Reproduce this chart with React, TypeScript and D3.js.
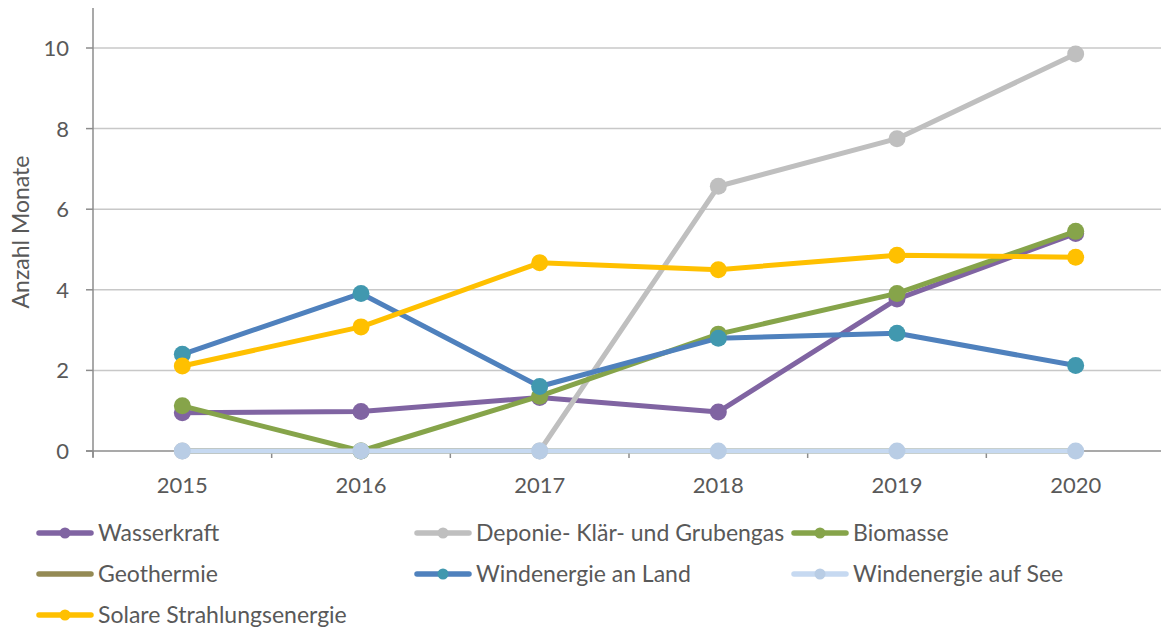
import React from "react";
import * as d3 from "d3";

const years = ["2015", "2016", "2017", "2018", "2019", "2020"];
const yTicks = [0, 2, 4, 6, 8, 10];

const wasserkraft = [0.95, 0.98, 1.33, 0.97, 3.77, 5.4];
const deponie = [0, 0, 0, 6.57, 7.75, 9.85];
const biomasse = [1.12, 0, 1.36, 2.9, 3.91, 5.45];
const geothermie = [0, 0, 0, 0, 0, 0];
const windLand = [2.4, 3.91, 1.6, 2.8, 2.92, 2.12];
const windSee = [0, 0, 0, 0, 0, 0];
const solar = [2.11, 3.08, 4.67, 4.5, 4.86, 4.81];

const series = [
  { name: "Wasserkraft", values: wasserkraft, line: "#8064A2", marker: "#8064A2", markers: true },
  { name: "Deponie- Klär- und Grubengas", values: deponie, line: "#BFBFBF", marker: "#BFBFBF", markers: true },
  { name: "Biomasse", values: biomasse, line: "#86A44A", marker: "#86A44A", markers: true },
  { name: "Geothermie", values: geothermie, line: "#948A54", marker: "#948A54", markers: false },
  { name: "Windenergie an Land", values: windLand, line: "#4F81BD", marker: "#4198AF", markers: true },
  { name: "Windenergie auf See", values: windSee, line: "#C6D9F1", marker: "#B9CDE5", markers: true },
  { name: "Solare Strahlungsenergie", values: solar, line: "#FFC000", marker: "#FFC000", markers: true },
];

const FONT = "Lato, 'Open Sans', sans-serif";
const TEXT = "#595959";

export default function App() {
  const W = 1161, H = 632;
  const left = 93, right = 1165, top = 8, bottom = 451;
  const x = d3.scaleBand<string>().domain(years).range([left, right]);
  const y = d3.scaleLinear().domain([0, 10]).range([bottom, 48]);
  const cx = (i: number) => (x(years[i]) as number) + x.bandwidth() / 2;
  const line = d3.line<number>().x((_, i) => cx(i)).y((v) => y(v));

  const legendCols = [37, 415, 792];
  const legendRows = [533, 574, 615];

  return (
    <svg width={W} height={H} style={{ position: "absolute", left: 0, top: 0 }}>
      <rect width={W} height={H} fill="#fff" />
      {yTicks.filter((t) => t > 0).map((t) => (
        <line key={t} x1={left} x2={W} y1={y(t)} y2={y(t)} stroke="#C8C8C8" strokeWidth={1.5} />
      ))}
      <line x1={left} x2={left} y1={top} y2={bottom + 6} stroke="#8C8C8C" strokeWidth={1.5} />
      <line x1={left - 7} x2={W} y1={bottom} y2={bottom} stroke="#8C8C8C" strokeWidth={1.5} />
      {yTicks.map((t) => (
        <g key={t}>
          <line x1={left - 7} x2={left} y1={y(t)} y2={y(t)} stroke="#8C8C8C" strokeWidth={1.5} />
          <text x={69} y={y(t)} dy="0.36em" textAnchor="end" fontFamily={FONT} fontSize={22} fill={TEXT}>
            {t}
          </text>
        </g>
      ))}
      {years.map((yr, i) => (
        <g key={yr}>
          <line x1={x(yr) as number} x2={x(yr) as number} y1={bottom} y2={bottom + 7} stroke="#8C8C8C" strokeWidth={1.5} />
          <text x={cx(i)} y={493} textAnchor="middle" fontFamily={FONT} fontSize={22} fill={TEXT}>
            {yr}
          </text>
        </g>
      ))}
      <text
        transform={`translate(29,232) rotate(-90)`}
        textAnchor="middle"
        fontFamily={FONT}
        fontSize={23}
        fill={TEXT}
      >
        Anzahl Monate
      </text>
      {series.map((s) => (
        <g key={s.name}>
          <path d={line(s.values) as string} fill="none" stroke={s.line} strokeWidth={5} strokeLinejoin="round" strokeLinecap="round" />
          {s.markers &&
            s.values.map((v, i) => <circle key={i} cx={cx(i)} cy={y(v)} r={8.5} fill={s.marker} />)}
        </g>
      ))}
      {series.map((s, k) => {
        const lx = legendCols[k % 3];
        const ly = legendRows[Math.floor(k / 3)];
        return (
          <g key={s.name}>
            <line x1={lx + 2} x2={lx + 54} y1={ly} y2={ly} stroke={s.line} strokeWidth={5.5} strokeLinecap="round" />
            {s.markers && <circle cx={lx + 28} cy={ly} r={5.5} fill={s.marker} />}
            <text x={lx + 61} y={ly} dy="0.36em" fontFamily={FONT} fontSize={23} fill={TEXT}>
              {s.name}
            </text>
          </g>
        );
      })}
    </svg>
  );
}
